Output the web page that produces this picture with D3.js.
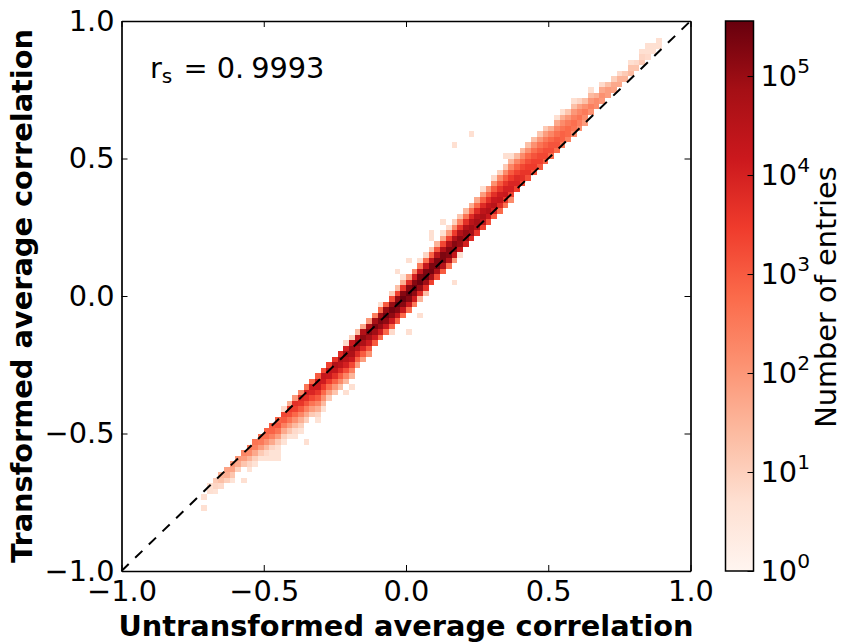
<!DOCTYPE html>
<html>
<head>
<meta charset="utf-8">
<script src="https://d3js.org/d3.v7.min.js"></script>
<style>
  html, body { margin: 0; padding: 0; background: #fff; }
  text { font-family: "DejaVu Sans", sans-serif; fill: #000; }
  .tick text { font-size: 28.8px; }
  .axis path, .axis line { stroke: #000; }
  .axis-title { font-size: 28.8px; font-weight: bold; }
  .cbar-title { font-size: 28.8px; }
</style>
</head>
<body>
<script>
// tick labels
var axisTicks = [-1, -0.5, 0, 0.5, 1];
var colorbarTicks = [1, 10, 100, 1000, 10000, 100000];

// histogram: 100 x 100 bins over [-1, 1], values are log10(entries).
// bandColumns[k] is the x bin, bandFirstOffsets[k] the first y bin relative to the diagonal,
// bandLevels[k] the levels going upward from there
var bandColumns = [15,16,17,18,19,20,21,22,23,24,25,26,27,28,29,30,31,32,33,34,35,36,37,38,39,40,41,42,43,44,
  45,46,47,48,49,50,51,52,53,54,55,56,57,58,59,60,61,62,63,64,65,66,67,68,69,70,71,72,73,74,
  75,76,77,78,79,80,81,82,83,84,85,86,87,88,89,90,91,92,93,94];
var bandFirstOffsets = [-1,-2,-2,-2,-3,-2,-2,-4,-4,-4,-5,-6,-7,-5,-5,-6,-6,-5,-5,-7,-6,-5,-5,-5,-5,-5,-4,-4,-4,-3,
  -3,-3,-4,-3,-3,-3,-3,-3,-3,-2,-2,-2,-2,-2,-2,-1,-1,-1,-1,-1,-1,-1,-1,-1,0,0,0,0,0,0,
  0,0,0,0,0,0,0,1,1,1,1,1,1,1,1,1,1,1,1,1];
var bandLevels = [
  [.7,.7], [.6,.9,1.1], [.8,1.3,1.5], [1.0,1.6,1.8], [.6,1.2,1.8,2.0], [1.0,1.7,2.0], [1.2,1.9,2.3],
  [.6,.9,1.5,2.2,2.5], [.6,1.0,1.7,2.4,2.6], [.6,1.1,1.9,2.5,2.7], [.6,.8,1.4,2.1,2.7,2.9],
  [.6,.6,.9,1.7,2.4,2.9,3.0], [.6,.6,.7,1.1,1.9,2.6,3.1,2.9], [.6,1.0,1.7,2.4,3.0,3.3,.8],
  [.6,1.2,1.9,2.6,3.2,3.5,1.6], [.6,.8,1.4,2.1,2.8,3.4,3.7,2.0], [.6,1.0,1.6,2.3,3.0,3.6,3.8,2.3],
  [1.0,1.7,2.4,3.1,3.7,4.0,2.6], [1.1,1.9,2.6,3.3,3.9,4.1,2.8], [.6,.9,1.6,2.3,3.0,3.6,4.1,4.2,3.0],
  [.7,1.4,2.1,2.8,3.5,4.1,4.3,3.2], [1.1,1.9,2.7,3.5,4.2,4.4,3.4], [1.2,2.0,2.9,3.7,4.3,4.6,3.6],
  [1.3,2.2,3.0,3.8,4.4,4.7,3.8], [1.4,2.3,3.2,4.0,4.5,4.8,4.0,.8], [1.5,2.4,3.3,4.2,4.7,4.9,4.2,1.0],
  [1.9,2.9,3.8,4.6,5.0,4.4,1.4], [1.9,3.0,3.9,4.7,5.1,4.6,1.7], [2.1,3.1,4.1,4.8,5.2,4.7,2.0],
  [3.0,4.1,4.9,5.3,4.8,2.4], [2.8,4.1,5.0,5.3,4.9,2.8,.7], [2.8,4.2,5.1,5.4,5.0,3.0],
  [.8,2.9,4.2,5.1,5.4,5.0,3.2,1.0], [2.9,4.3,5.2,5.5,5.1,3.4,1.3], [2.8,4.3,5.2,5.5,5.2,3.6,1.6,.6],
  [2.7,4.2,5.2,5.5,5.2,3.8,1.9], [2.5,4.1,5.1,5.5,5.2,4.0,2.2], [1.5,3.8,5.0,5.5,5.3,4.2,2.5,.7],
  [1.3,3.7,4.9,5.4,5.3,4.3,2.7,.9], [3.4,4.8,5.4,5.3,4.4,2.9,1.2], [3.2,4.7,5.3,5.3,4.5,3.1,1.5],
  [3.0,4.6,5.3,5.3,4.6,3.3,1.7,.7], [2.6,4.5,5.2,5.2,4.6,3.4,2.0,.8], [2.0,4.3,5.1,5.2,4.6,3.5,2.2,1.0],
  [.7,4.2,5.0,5.1,4.6,3.6,2.4,1.2], [4.0,4.9,5.0,4.6,3.7,2.6,1.4], [3.8,4.8,4.9,4.5,3.8,2.7,1.6],
  [3.6,4.6,4.8,4.5,3.8,2.8,1.7], [3.4,4.4,4.7,4.4,3.8,2.9,1.9,.7], [3.2,4.2,4.6,4.3,3.7,2.9,2.0],
  [3.0,4.0,4.5,4.2,3.7,3.0,2.1,.8], [2.8,3.8,4.3,4.1,3.6,3.0,2.2,1.0], [2.6,3.6,4.2,4.0,3.6,3.0,2.2,1.1],
  [2.2,3.4,4.0,3.9,3.5,3.0,2.3,1.5,.7], [3.4,3.9,3.8,3.4,2.9,2.3,1.4], [3.3,3.7,3.6,3.3,2.8,2.2,1.4],
  [3.2,3.6,3.5,3.2,2.8,2.1,1.3], [3.1,3.5,3.4,3.1,2.7,2.1,1.3], [3.0,3.4,3.3,3.0,2.6,2.0,1.2],
  [2.9,3.3,3.2,2.9,2.5,1.9,1.1], [2.8,3.2,3.1,2.8,2.3,1.6], [2.7,3.1,3.0,2.7,2.3,1.7,.7],
  [2.5,2.9,2.9,2.6,2.2,1.6,.7], [2.4,2.8,2.8,2.5,2.0,1.2], [2.2,2.6,2.7,2.4,2.0,1.3,.7],
  [2.1,2.4,2.6,2.3,1.8,.9], [1.9,2.2,2.5,2.1,1.3], [2.1,2.4,2.0,1.4,.7], [2.2,2.2,1.6], [2.0,2.1,1.7,.8],
  [1.9,1.9,1.3], [1.8,1.7,1.0], [1.7,1.5,.8], [1.5,1.1], [1.4,1.2,.7], [1.2,.8], [1.1,.9,.7], [.8,.7,.7],
  [.7,.7], [.7,.7]
];

// isolated bins away from the band
var strayColumns = [14,14,21,32,39,40,48,50,50,52,54,54,56,58,58,61,67];
var strayRows =    [13,11,16,23,32,33,54,56,43,46,60,61,63,52,77,79,75];
var strayLevels =  [.7,.7,.7,.7,.7,.7,.7,.7,.7,.7,.7,.7,.7,.7,.7,.7,.7];

var maxEntries = 360000;

var margin = {top: 21, left: 121.5},
    width = 569,
    height = 550,
    cbarLeft = 725.5,
    cbarWidth = 28;

var svg = d3.select("body").append("svg")
    .attr("width", 843)
    .attr("height", 642)
    .style("display", "block");

var xScale = d3.scaleLinear().domain([-1, 1]).range([margin.left, margin.left + width]),
    yScale = d3.scaleLinear().domain([-1, 1]).range([margin.top + height, margin.top]),
    binEdge = function(i) { return -1 + i * 0.02; };

// same colours as the Reds map, linear between the nine stops
var redsMap = d3.piecewise(d3.interpolateRgb, d3.schemeReds[9]),
    color = d3.scaleSequential(redsMap).domain([0, Math.log10(maxEntries)]);

// flatten band and strays into cells
var cells = [];
bandColumns.forEach(function(col, k) {
  bandLevels[k].forEach(function(level, n) {
    cells.push({col: col, row: col + bandFirstOffsets[k] + n, level: level});
  });
});
strayColumns.forEach(function(col, k) {
  cells.push({col: col, row: strayRows[k], level: strayLevels[k]});
});

svg.append("g")
    .style("filter", "blur(0.4px)")
  .selectAll("rect")
    .data(cells)
  .enter().append("rect")
    .attr("x", function(d) { return xScale(binEdge(d.col)); })
    .attr("y", function(d) { return yScale(binEdge(d.row + 1)); })
    .attr("width", function(d) { return xScale(binEdge(d.col + 1)) - xScale(binEdge(d.col)); })
    .attr("height", function(d) { return yScale(binEdge(d.row)) - yScale(binEdge(d.row + 1)); })
    .attr("shape-rendering", "crispEdges")
    .style("fill", function(d) { return color(d.level); });

// diagonal
svg.append("line")
    .attr("x1", xScale(-1)).attr("y1", yScale(-1))
    .attr("x2", xScale(1)).attr("y2", yScale(1))
    .style("stroke", "#000")
    .style("stroke-width", 2)
    .style("stroke-dasharray", "10,9");

// axes, ticks inward on all four sides
var tickFmt = d3.format(".1f");

function styleAxis(g) {
  g.attr("class", "axis");
  g.select(".domain").style("stroke-width", 1.7);
  g.selectAll(".tick line").style("stroke-width", 1);
}

svg.append("g")
    .attr("transform", "translate(0," + (margin.top + height) + ")")
    .call(d3.axisBottom(xScale).tickValues(axisTicks).tickFormat(tickFmt).tickSize(-6).tickSizeOuter(0).tickPadding(10))
    .call(styleAxis);
svg.append("g")
    .attr("transform", "translate(0," + margin.top + ")")
    .call(d3.axisTop(xScale).tickValues(axisTicks).tickFormat("").tickSize(-6).tickSizeOuter(0))
    .call(styleAxis);
svg.append("g")
    .attr("transform", "translate(" + margin.left + ",0)")
    .call(d3.axisLeft(yScale).tickValues(axisTicks).tickFormat(tickFmt).tickSize(-6).tickSizeOuter(0).tickPadding(7))
    .call(styleAxis);
svg.append("g")
    .attr("transform", "translate(" + (margin.left + width) + ",0)")
    .call(d3.axisRight(yScale).tickValues(axisTicks).tickFormat("").tickSize(-6).tickSizeOuter(0))
    .call(styleAxis);

// axis titles
svg.append("text")
    .attr("class", "axis-title")
    .attr("x", xScale(0))
    .attr("y", 636)
    .style("text-anchor", "middle")
    .text("Untransformed average correlation");

svg.append("text")
    .attr("class", "axis-title")
    .attr("transform", "translate(32," + yScale(0) + ") rotate(-90)")
    .style("text-anchor", "middle")
    .text("Transformed average correlation");

// correlation note
var note = svg.append("text")
    .attr("x", 150)
    .attr("y", 78)
    .style("font-size", "28.8px");
note.append("tspan").text("r");
note.append("tspan").attr("dy", 5).style("font-size", "20.2px").text("s");
note.append("tspan").attr("dy", -5).attr("dx", 11).text("= 0.");
note.append("tspan").attr("dx", 7).text("9993");

// colorbar
var cbarScale = d3.scaleLog().domain([1, maxEntries]).range([margin.top + height, margin.top]);

var gradient = svg.append("defs").append("linearGradient")
    .attr("id", "reds")
    .attr("x1", 0).attr("y1", 1)
    .attr("x2", 0).attr("y2", 0);
gradient.selectAll("stop")
    .data(d3.schemeReds[9])
  .enter().append("stop")
    .attr("offset", function(d, i) { return i / 8; })
    .attr("stop-color", function(d) { return d; });

svg.append("rect")
    .attr("x", cbarLeft)
    .attr("y", margin.top)
    .attr("width", cbarWidth)
    .attr("height", height)
    .style("fill", "url(#reds)")
    .style("stroke", "#000")
    .style("stroke-width", 1.5);

var cbarAxis = svg.append("g")
    .attr("transform", "translate(" + (cbarLeft + cbarWidth) + ",0)")
    .call(d3.axisRight(cbarScale).tickValues(colorbarTicks).tickFormat("").tickSize(-6).tickSizeOuter(0));
cbarAxis.attr("class", "axis");
cbarAxis.select(".domain").remove();

// 10^n labels
cbarAxis.selectAll(".tick text").remove();
cbarAxis.selectAll(".tick").append("text")
    .attr("x", 7)
    .attr("y", 9)
    .style("fill", "#000")
    .each(function(d) {
      var t = d3.select(this);
      t.append("tspan").text("10");
      t.append("tspan")
          .attr("dy", -13)
          .style("font-size", "20.2px")
          .text(Math.round(Math.log10(d)));
    });

svg.append("text")
    .attr("class", "cbar-title")
    .attr("transform", "translate(836,297) rotate(-90)")
    .style("text-anchor", "middle")
    .text("Number of entries");
</script>
</body>
</html>
